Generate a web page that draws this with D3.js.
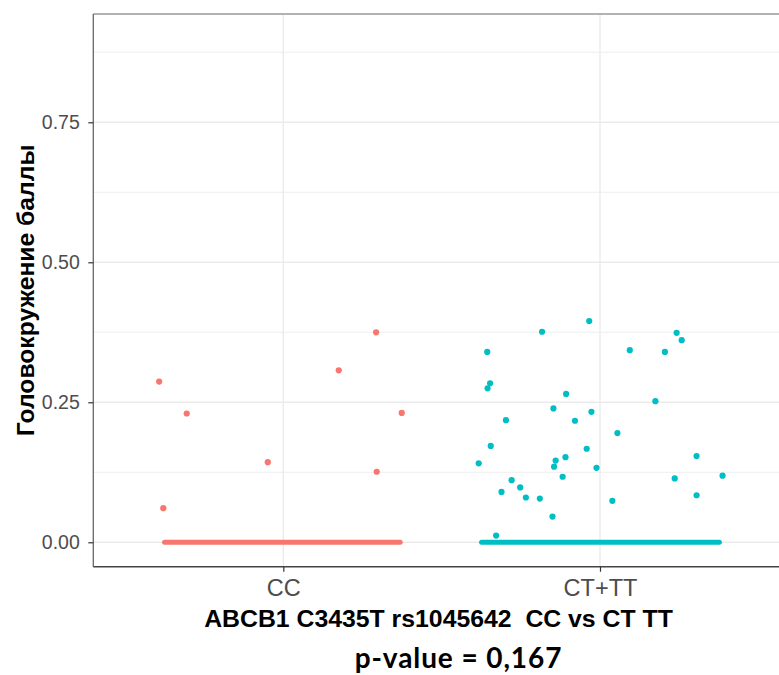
<!DOCTYPE html>
<html><head><meta charset="utf-8">
<script src="https://cdn.jsdelivr.net/npm/d3@7"></script>
<style>
html,body{margin:0;padding:0;background:#fff;}
svg{display:block;}
text{font-family:"Liberation Sans",Arial,sans-serif;}
</style></head>
<body>
<script>
// ---- data ----
const categories = ["CC", "CT+TT"];
const colors = ["#F8766D", "#00BFC4"];
// jitter offsets (in category units) and values for non-zero points
const ccOffsets = [-0.392, -0.305, -0.379, -0.049, 0.175, 0.293, 0.295, 0.374];
const ccValues  = [0.287, 0.230, 0.061, 0.143, 0.307, 0.375, 0.126, 0.231];
const ctOffsets = [-0.034, -0.183, 0.242, 0.258, -0.356, 0.094, 0.205, -0.347, -0.355, -0.107,
                   0.175, -0.147, -0.027, -0.297, -0.079, 0.055, -0.345, -0.042, 0.305, -0.109,
                   -0.140, -0.383, -0.145, -0.011, 0.387, -0.118, 0.236, -0.279, -0.252, -0.311,
                   -0.234, -0.190, 0.305, 0.039, -0.150, -0.328];
const ctValues  = [0.395, 0.376, 0.374, 0.361, 0.340, 0.343, 0.340, 0.284, 0.275, 0.265,
                   0.252, 0.239, 0.233, 0.218, 0.217, 0.195, 0.172, 0.167, 0.154, 0.152,
                   0.146, 0.141, 0.135, 0.133, 0.119, 0.117, 0.114, 0.111, 0.098, 0.090,
                   0.080, 0.078, 0.084, 0.074, 0.046, 0.012];
// jitter span of the many zero-valued points, per category
const zeroSpans = [[-0.375, 0.369], [-0.374, 0.377]];
const yTicks = [0, 0.25, 0.5, 0.75];
const yMinor = [0.125, 0.375, 0.625, 0.875];
const yDomain = [-0.0436, 0.9434];
const yTitle = "Головокружение баллы";
const xTitle = "ABCB1 C3435T rs1045642  CC vs CT TT";
const note = "p-value = 0,167";

// ---- layout ----
const W = 779, H = 675;
const panel = {left: 93.3, top: 14, bottom: 566.7, right: 790};
const svg = d3.select("body").append("svg").attr("width", W).attr("height", H);

const x = d3.scalePoint().domain(categories)
  .range([panel.left + 0.6 * (panel.right - panel.left) / 2.2, panel.right - 0.6 * (panel.right - panel.left) / 2.2]);
const step = x.step();
const y = d3.scaleLinear().domain(yDomain).range([panel.bottom, panel.top]);

const g = svg.append("g");
// panel background + grid
g.append("rect").attr("x", panel.left).attr("y", panel.top)
  .attr("width", panel.right - panel.left).attr("height", panel.bottom - panel.top).attr("fill", "#fff");
g.selectAll(".minor").data(yMinor).join("line")
  .attr("x1", panel.left).attr("x2", panel.right)
  .attr("y1", d => y(d)).attr("y2", d => y(d))
  .attr("stroke", "#EBEBEB").attr("stroke-width", 0.8);
g.selectAll(".major").data(yTicks).join("line")
  .attr("x1", panel.left).attr("x2", panel.right)
  .attr("y1", d => y(d)).attr("y2", d => y(d))
  .attr("stroke", "#EBEBEB").attr("stroke-width", 1.4);
g.selectAll(".vmajor").data(categories).join("line")
  .attr("x1", d => x(d)).attr("x2", d => x(d))
  .attr("y1", panel.top).attr("y2", panel.bottom)
  .attr("stroke", "#EBEBEB").attr("stroke-width", 1.4);

// zero-valued points (dense jitter forming a bar)
g.selectAll(".zero").data(zeroSpans).join("line")
  .attr("x1", (d, i) => x(categories[i]) + d[0] * step)
  .attr("x2", (d, i) => x(categories[i]) + d[1] * step)
  .attr("y1", y(0)).attr("y2", y(0))
  .attr("stroke", (d, i) => colors[i]).attr("stroke-width", 5)
  .attr("stroke-linecap", "round");

// points
const series = [
  {cat: categories[0], col: colors[0], off: ccOffsets, val: ccValues},
  {cat: categories[1], col: colors[1], off: ctOffsets, val: ctValues}
];
series.forEach(s => {
  g.append("g").selectAll("circle").data(s.val).join("circle")
    .attr("cx", (d, i) => x(s.cat) + s.off[i] * step)
    .attr("cy", d => y(d))
    .attr("r", 3.1).attr("fill", s.col);
});

// panel border (top) and axes
g.append("line").attr("x1", panel.left).attr("x2", panel.right)
  .attr("y1", panel.top).attr("y2", panel.top).attr("stroke", "#999").attr("stroke-width", 1.3);

const yAxis = d3.axisLeft(y).tickValues(yTicks).tickFormat(d3.format(".2f")).tickSize(5).tickPadding(8.5);
const ya = svg.append("g").attr("transform", `translate(${panel.left},0)`).call(yAxis);
ya.select(".domain").attr("stroke", "#666").attr("stroke-width", 1.3)
  .attr("d", `M0,${panel.top}V${panel.bottom}`);
ya.selectAll(".tick line").attr("stroke", "#333").attr("stroke-width", 1.2);
ya.selectAll(".tick text").attr("fill", "#4D4D4D").style("font-size", "19.5px")
  .style("font-family", "'Liberation Sans',Arial,sans-serif");

const xAxis = d3.axisBottom(x).tickSize(5).tickPadding(8);
const xa = svg.append("g").attr("transform", `translate(0,${panel.bottom})`).call(xAxis);
xa.select(".domain").attr("stroke", "#444").attr("stroke-width", 1.4)
  .attr("d", `M${panel.left},0H${panel.right}`);
xa.selectAll(".tick line").attr("stroke", "#333").attr("stroke-width", 1.2);
xa.selectAll(".tick text").attr("fill", "#4D4D4D").style("font-size", "23.5px")
  .style("font-family", "'Liberation Sans',Arial,sans-serif");

// titles
svg.append("text")
  .attr("transform", `translate(34,${(panel.top + panel.bottom) / 2}) rotate(-90)`)
  .attr("text-anchor", "middle").attr("font-weight", "bold").attr("font-size", 24.7)
  .attr("fill", "#000").text(yTitle);
svg.append("text").attr("x", 438.5).attr("y", 626.5)
  .attr("text-anchor", "middle").attr("font-weight", "bold").attr("font-size", 24.8)
  .attr("fill", "#000").style("white-space", "pre").text(xTitle);
svg.append("text").attr("x", 458.5).attr("y", 668)
  .attr("text-anchor", "middle").attr("font-weight", "bold").attr("font-size", 28)
  .attr("letter-spacing", "0.9px")
  .style("font-family", "Lato,'Open Sans',sans-serif")
  .attr("fill", "#000").text(note);
</script>
</body></html>
